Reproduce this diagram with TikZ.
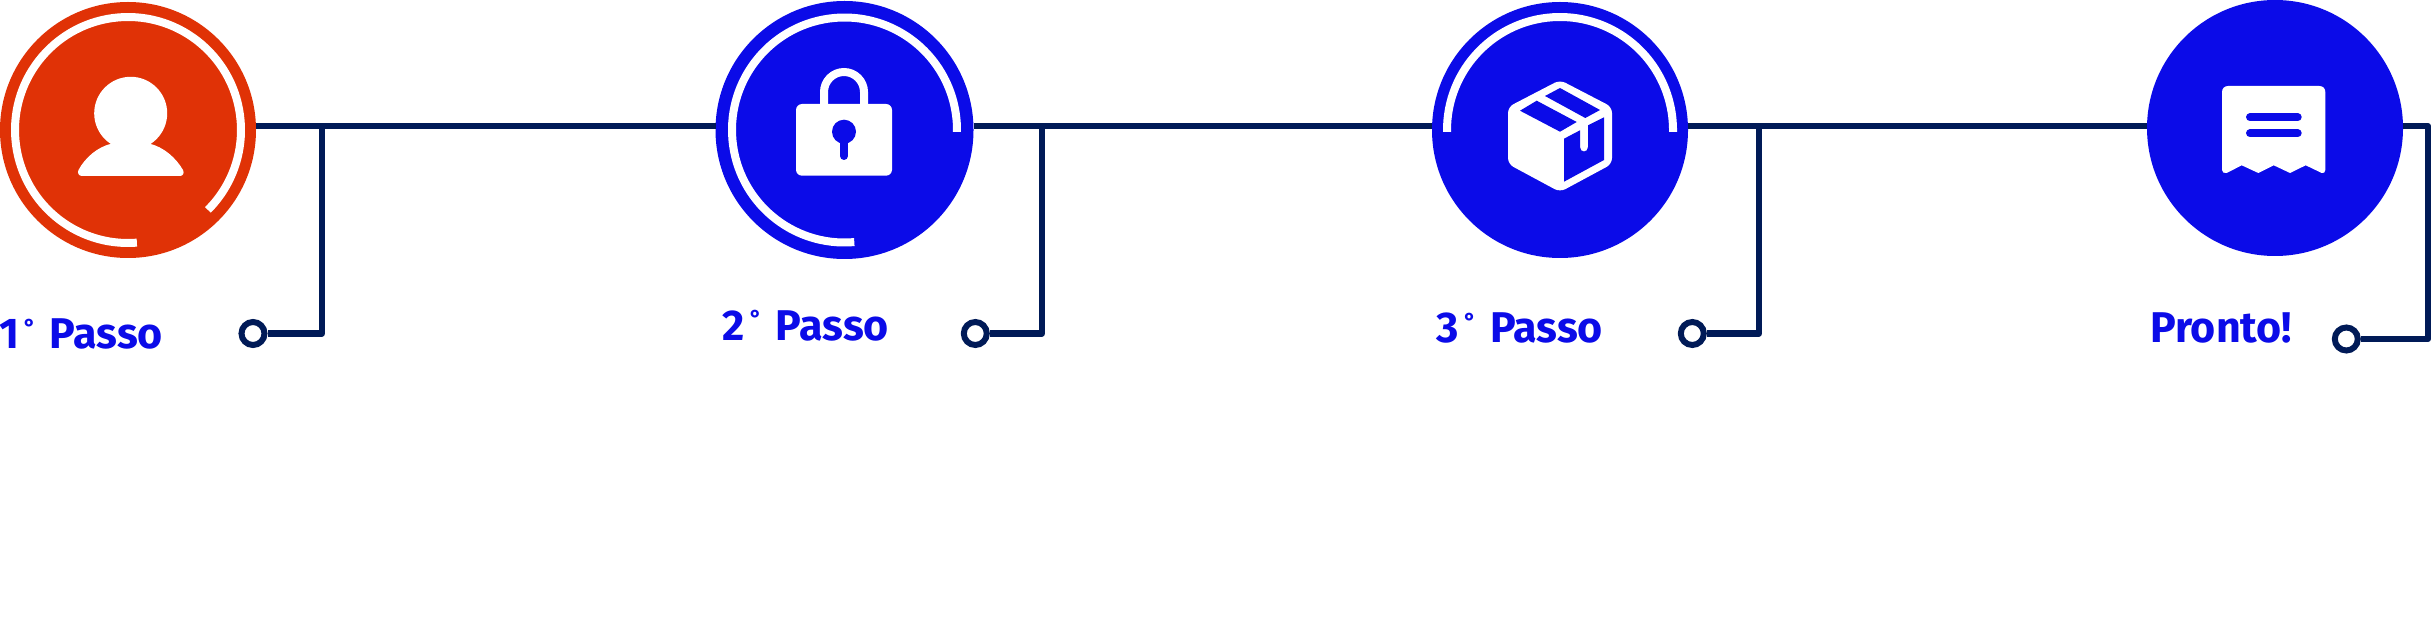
\documentclass[tikz,border=0pt]{standalone}
\usepackage{fontspec}
\setmainfont{Fira Sans}
\definecolor{stepred}{HTML}{E03206}
\definecolor{stepblue}{HTML}{0B0BE8}
\definecolor{navy}{HTML}{001A57}
\newcommand\degmark{\hspace{2.5pt}\raisebox{6.9pt}{\fontsize{11.5}{12}\selectfont °}\hspace{7pt}}
\tikzset{
  disc/.style={circle,inner sep=0pt,outer sep=0pt,minimum size=#1*0.5pt},
  ring/.style={draw=white,line width=4pt,line cap=butt},
  wire/.style={draw=navy,line width=3pt,line join=round},
  endpoint/.style={circle,draw=navy,fill=white,line width=3pt,inner sep=0pt,minimum size=11.5pt},
  steplabel/.style={inner sep=0pt,outer sep=0pt,anchor=base west,text=stepblue,font=\fontsize{21.5}{24}\selectfont\bfseries},
  icon/.style={fill=white},
  cut/.style={fill=stepblue},
  cutline/.style={draw=stepblue,line width=4pt,line cap=round},
}
\begin{document}
\begin{tikzpicture}[x=0.5pt,y=-0.5pt]
\useasboundingbox[fill=white] (0,0) rectangle (2431,620);
% discs
\node[disc=256,fill=stepred]  (c1) at (128,130) {};
\node[disc=258,fill=stepblue] (c2) at (844.5,130) {};
\node[disc=256,fill=stepblue] (c3) at (1560,130) {};
\node[disc=256,fill=stepblue] (c4) at (2275,128) {};
% end points
\node[endpoint] (s1) at (253,333.5) {};
\node[endpoint] (s2) at (975.3,333.5) {};
\node[endpoint] (s3) at (1692.3,333.5) {};
\node[endpoint] (s4) at (2346.3,339) {};
\coordinate (j1) at (322,126);
\coordinate (j2) at (1042,126);
\coordinate (j3) at (1759,126);
\coordinate (k4) at (2428,126);
% connectors
\draw[wire] (c1.east |- j1) -- (c2.west |- j1);
\draw[wire] (c2.east |- j1) -- (c3.west |- j1);
\draw[wire] (c3.east |- j1) -- (c4.west |- j1);
\draw[wire] (c4.east |- k4) -- (k4) |- (s4);
\draw[wire] (j1) |- (s1);
\draw[wire] (j2) |- (s2);
\draw[wire] (j3) |- (s3);
% rings
\draw[ring] ([shift={(85.5:113)}]c1.center) arc[start angle=85.5,end angle=405,radius=113];
\draw[ring] ([shift={(85:112.5)}]c2.center) arc[start angle=85,end angle=361,radius=112.5];
\draw[ring] ([shift={(179:113)}]c3.center) arc[start angle=179,end angle=361,radius=113];
% person
\fill[icon] (130.7,113.3) circle[radius=36.5];
\fill[icon] (112,143.5) .. controls (97,147) and (85,158) .. (78.5,170) .. controls (77,173) and (79,176) .. (82,176) -- (180,176) .. controls (183,176) and (184.5,173) .. (183,170) .. controls (176,158) and (164,147) .. (149,143.5) -- cycle;
% lock
\draw[draw=white,line width=4pt] (824,106) -- (824,92) .. controls (824,81) and (833,72) .. (844,72) .. controls (855,72) and (864,81) .. (864,92) -- (864,106);
\fill[icon,rounded corners=3pt] (796,104) rectangle (892,175.7);
\fill[cut] (844,131.7) circle[radius=12];
\draw[cutline] (844,135) -- (844,156);
% box
\fill[icon,rounded corners=3pt] (1560,80) -- (1612,107) -- (1612,164) -- (1560,192) -- (1508,164) -- (1508,107) -- cycle;
\fill[cut] (1520,110.7) -- (1536.7,100.7) -- (1576.7,122) -- (1560,131.7) -- cycle;
\fill[cut] (1545,96) -- (1560,88) -- (1600,110) -- (1585.3,118) -- cycle;
\fill[cut] (1564,138.7) -- (1580,130.3) -- (1580,147) .. controls (1580,153) and (1588,153) .. (1588,147) -- (1588,125.3) -- (1604,117.3) -- (1604,160) -- (1564,181.7) -- cycle;
% receipt
\fill[icon] (2228,86) -- (2319.3,86) .. controls (2323,86) and (2325.3,88.5) .. (2325.3,92) -- (2325.3,170) .. controls (2325.3,172.5) and (2323.5,173.5) .. (2321.7,173) -- (2305.7,165.3) -- (2290,173) -- (2273.7,165.3) -- (2258.3,173) -- (2241.7,165.3) -- (2226.7,173) .. controls (2224,173.5) and (2222,172.5) .. (2222,170) -- (2222,92) .. controls (2222,88.5) and (2224.5,86) .. (2228,86) -- cycle;
\draw[cutline] (2250,117.3) -- (2297.7,117.3);
\draw[cutline] (2250,133.3) -- (2297.7,133.3);
% labels
\node[steplabel] (t1) at (-1,349) {1\degmark Passo};
\node[steplabel] (t2) at (722.7,340.7) {2\degmark Passo};
\node[steplabel] (t3) at (1436.7,343) {3\degmark Passo};
\node[steplabel] (t4) at (2150,343) {Pronto!};
\end{tikzpicture}
\end{document}
